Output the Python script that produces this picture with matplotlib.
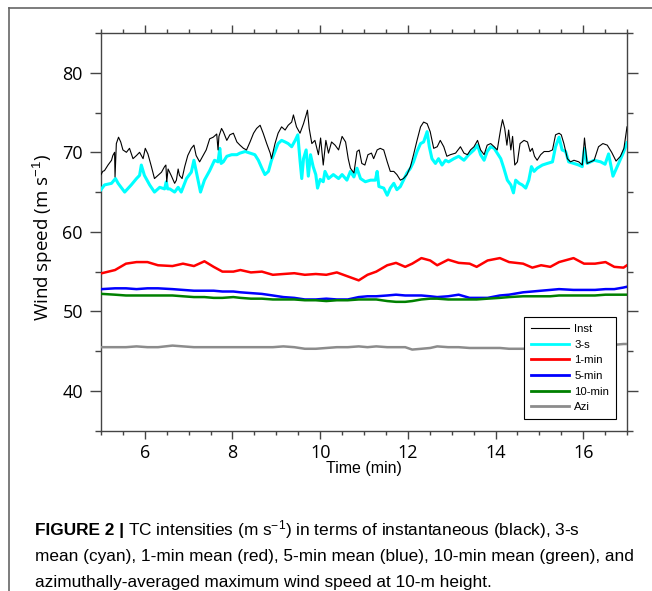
import matplotlib
matplotlib.use('Agg')
import matplotlib.pyplot as plt
from matplotlib.lines import Line2D
from matplotlib.ticker import MultipleLocator

# Мгновенная скорость ветра (Inst)
inst_t = [5.00, 5.04, 5.08, 5.16, 5.24, 5.27, 5.31, 5.32, 5.35, 5.40, 5.45, 5.50, 5.58, 5.65, 5.73, 5.81,
          5.88, 5.96, 6.01, 6.07, 6.15, 6.22, 6.30, 6.38, 6.45, 6.48, 6.50, 6.53, 6.60, 6.68, 6.72, 6.76,
          6.79, 6.85, 6.91, 6.98, 7.06, 7.12, 7.17, 7.25, 7.33, 7.40, 7.48, 7.56, 7.64, 7.67, 7.69, 7.75,
          7.79, 7.87, 7.94, 8.02, 8.10, 8.17, 8.25, 8.32, 8.40, 8.48, 8.55, 8.63, 8.70, 8.78, 8.86, 8.89,
          8.97, 9.04, 9.12, 9.20, 9.27, 9.35, 9.39, 9.46, 9.54, 9.62, 9.68, 9.71, 9.75, 9.81, 9.88, 9.96,
          10.01, 10.07, 10.13, 10.19, 10.26, 10.34, 10.42,
          10.50, 10.58, 10.64, 10.69, 10.77, 10.84, 10.89, 10.95, 11.02, 11.09, 11.17, 11.22, 11.30, 11.37,
          11.45, 11.53, 11.60, 11.68, 11.75, 11.83, 11.90, 11.98, 12.06, 12.13, 12.21, 12.29, 12.36, 12.44,
          12.51, 12.59, 12.67, 12.74, 12.82, 12.89, 12.97, 13.09, 13.20,
          13.28, 13.36, 13.43, 13.51, 13.59, 13.66, 13.74, 13.81, 13.89, 13.97, 14.04, 14.12, 14.16, 14.21,
          14.26, 14.30, 14.35, 14.39, 14.44, 14.50, 14.56, 14.65, 14.73, 14.79, 14.84, 14.89, 14.95, 15.03,
          15.11, 15.22, 15.30, 15.37, 15.45, 15.50, 15.56, 15.64, 15.71, 15.79, 15.90, 15.98, 16.03, 16.09,
          16.17, 16.25, 16.35, 16.45, 16.55, 16.65, 16.75, 16.85, 16.93, 17.00]
inst_v = [67.2, 67.6, 67.7, 68.4, 69.0, 69.6, 70.0, 66.9, 71.1, 71.9, 71.3, 70.3, 70.0, 70.5, 69.2, 69.6,
          70.0, 69.2, 70.5, 69.8, 68.2, 66.7, 67.1, 67.5, 68.2, 68.4, 66.3, 67.9, 67.1, 66.1, 66.5, 67.9,
          67.1, 66.7, 68.2, 69.6, 70.5, 70.9, 69.6, 68.8, 69.6, 70.3, 71.7, 71.9, 72.3, 70.3, 72.0, 73.0,
          72.6, 71.5, 72.2, 72.4, 71.3, 70.9, 70.5, 70.3, 71.3, 72.4, 73.0, 73.4, 72.4, 71.1, 69.9, 69.2,
          71.1, 72.4, 73.2, 72.8, 73.4, 73.8, 74.7, 73.2, 72.4, 73.6, 74.7, 75.3, 73.0, 71.1, 71.5, 69.7,
          71.8, 68.4, 71.5, 69.9, 71.3, 70.9, 70.3,
          72.0, 71.3, 69.2, 68.0, 67.4, 70.1, 70.3, 68.6, 68.4, 69.7, 69.9, 69.2, 70.3, 70.5,
          70.3, 68.8, 67.6, 67.6, 67.2, 66.5, 66.7, 67.2, 68.2, 69.7, 71.5, 73.2, 73.8, 73.6,
          72.6, 70.5, 70.7, 71.5, 70.7, 69.5, 69.7, 69.9, 70.7,
          69.9, 69.7, 70.3, 70.7, 71.5, 70.3, 69.7, 70.9, 71.1, 70.7, 70.3, 73.0, 74.1, 73.0,
          70.9, 72.8, 70.3, 72.0, 68.4, 68.8, 71.1, 71.5, 71.3, 70.1, 70.5, 69.5, 69.0, 69.7,
          70.1, 70.1, 70.3, 72.2, 72.4, 72.2, 71.1, 69.2, 68.8, 69.0, 68.8, 68.4, 71.8, 68.6,
          68.8, 69.0, 70.7, 71.1, 70.9, 70.0, 68.9, 69.5, 70.5, 73.2]

# Среднее за 3 с (3-s)
s3_t = [5.00, 5.08, 5.24, 5.33, 5.39, 5.54, 5.69, 5.81, 5.88, 5.92, 5.99, 6.11, 6.22, 6.34, 6.45, 6.49,
        6.52, 6.57, 6.68, 6.76, 6.83, 6.95, 7.06, 7.12, 7.20, 7.27, 7.36, 7.48, 7.59, 7.67, 7.71, 7.74,
        7.79, 7.87, 7.98, 8.10, 8.17, 8.29, 8.40, 8.51, 8.59, 8.67, 8.74, 8.82, 8.89, 8.97, 9.04, 9.12,
        9.20, 9.27, 9.35, 9.43, 9.49, 9.54, 9.58, 9.62, 9.68, 9.73, 9.78, 9.84, 9.90, 9.94, 10.00, 10.07,
        10.11, 10.19, 10.30, 10.42,
        10.50, 10.61, 10.69, 10.77, 10.84, 10.92, 11.03, 11.15, 11.26, 11.30, 11.34, 11.45, 11.53, 11.60,
        11.68, 11.75, 11.83, 11.90, 11.98, 12.06, 12.13, 12.21, 12.29, 12.36, 12.44, 12.49, 12.55, 12.63,
        12.70, 12.78, 12.86, 12.93, 13.05, 13.16,
        13.28, 13.39, 13.51, 13.59, 13.66, 13.74, 13.81, 13.89, 13.97, 14.04, 14.12, 14.19, 14.27, 14.35,
        14.41, 14.46, 14.54, 14.61, 14.69, 14.76, 14.82, 14.88, 14.95, 15.07, 15.18, 15.30, 15.37, 15.45,
        15.52, 15.60, 15.67, 15.79, 15.90, 15.98, 16.03, 16.09, 16.17, 16.25, 16.40, 16.50, 16.58, 16.68,
        16.80, 16.92, 17.00]
s3_v = [65.3, 65.9, 66.1, 66.7, 66.1, 65.0, 65.9, 66.7, 67.1, 68.4, 67.1, 65.9, 65.0, 65.6, 65.4, 66.3,
        65.4, 65.4, 65.0, 65.6, 65.0, 66.7, 67.5, 69.0, 66.9, 65.0, 66.5, 67.7, 69.0, 68.8, 70.5, 68.6,
        68.8, 69.5, 69.7, 69.7, 69.9, 70.1, 69.9, 69.7, 69.0, 68.0, 67.2, 67.6, 69.0, 70.1, 71.1, 71.5,
        71.3, 71.1, 70.7, 71.5, 72.2, 69.0, 66.7, 69.2, 70.3, 67.0, 69.7, 68.2, 67.2, 65.5, 66.6, 66.3,
        67.6, 66.7, 67.2, 66.7,
        67.2, 66.5, 67.6, 66.9, 68.0, 66.7, 66.3, 66.5, 66.5, 67.6, 65.7, 65.5, 64.6, 65.5,
        66.1, 65.3, 65.7, 66.5, 67.4, 68.0, 68.8, 70.1, 71.1, 71.3, 72.6, 70.7, 69.2, 68.6,
        69.2, 68.4, 69.0, 68.8, 69.2, 69.5,
        69.0, 69.7, 70.3, 70.9, 69.7, 69.0, 70.1, 70.7, 70.5, 69.9, 69.2, 68.0, 66.5, 65.9,
        64.9, 66.5, 66.1, 65.9, 65.5, 66.5, 68.2, 67.6, 68.0, 68.4, 68.6, 68.8, 70.7, 71.9,
        70.3, 70.1, 68.8, 68.6, 68.4, 68.2, 70.5, 68.6, 68.8, 69.0, 68.8, 68.5, 69.8, 67.0,
        68.5, 70.0, 71.2]

# Время для сглаженных рядов (1-min, 5-min, 10-min, Azi)
mean_t = [5.02, 5.32, 5.57, 5.81, 6.06, 6.30, 6.63, 6.87, 7.12, 7.36, 7.57, 7.77, 8.02, 8.18, 8.42,
          8.67, 8.92, 9.16, 9.41, 9.65, 9.90, 10.14, 10.38, 10.63, 10.88, 11.08, 11.28, 11.53, 11.73,
          11.94, 12.10, 12.31, 12.51, 12.67, 12.92, 13.16, 13.41, 13.57, 13.82, 14.10, 14.31, 14.63,
          14.84, 15.04, 15.25, 15.45, 15.78, 16.02, 16.27, 16.51, 16.71, 16.92, 17.00]
min1_v = [54.8, 55.2, 56.0, 56.2, 56.2, 55.8, 55.7, 56.0, 55.7, 56.3, 55.6, 55.0, 55.0, 55.2, 54.9,
          55.0, 54.6, 54.7, 54.8, 54.6, 54.7, 54.6, 54.9, 54.4, 53.9, 54.6, 55.0, 55.8, 56.1,
          55.6, 56.0, 56.7, 56.4, 55.8, 56.5, 56.1, 56.0, 55.6, 56.4, 56.7, 56.2, 56.0,
          55.5, 55.8, 55.6, 56.2, 56.7, 56.0, 56.0, 56.2, 55.6, 55.5, 55.8]
min5_v = [52.8, 52.9, 52.9, 52.8, 52.9, 52.9, 52.8, 52.7, 52.6, 52.6, 52.6, 52.5, 52.5, 52.4, 52.3,
          52.2, 52.0, 51.8, 51.7, 51.5, 51.5, 51.6, 51.5, 51.5, 51.8, 51.9, 51.9, 52.0, 52.1,
          52.0, 52.0, 52.0, 51.9, 51.8, 51.9, 52.1, 51.7, 51.7, 51.7, 52.0, 52.1, 52.4,
          52.5, 52.6, 52.7, 52.8, 52.7, 52.7, 52.7, 52.8, 52.8, 53.0, 53.1]
min10_v = [52.2, 52.1, 52.0, 52.0, 52.0, 52.0, 52.0, 51.9, 51.8, 51.8, 51.7, 51.7, 51.8, 51.7, 51.6,
           51.6, 51.5, 51.5, 51.5, 51.4, 51.4, 51.3, 51.4, 51.4, 51.5, 51.5, 51.5, 51.3, 51.2,
           51.2, 51.3, 51.5, 51.6, 51.6, 51.5, 51.5, 51.5, 51.5, 51.6, 51.7, 51.8, 51.9,
           51.9, 51.9, 51.9, 52.0, 52.0, 52.0, 52.0, 52.1, 52.1, 52.1, 52.1]
azi_v = [45.5, 45.5, 45.5, 45.6, 45.5, 45.5, 45.7, 45.6, 45.5, 45.5, 45.5, 45.5, 45.5, 45.5, 45.5,
         45.5, 45.5, 45.6, 45.5, 45.3, 45.3, 45.4, 45.5, 45.5, 45.6, 45.5, 45.6, 45.5, 45.5,
         45.5, 45.2, 45.3, 45.4, 45.6, 45.5, 45.5, 45.4, 45.4, 45.4, 45.4, 45.3, 45.3,
         45.4, 45.4, 45.5, 45.5, 45.6, 45.6, 45.7, 45.7, 45.8, 45.9, 45.9]

series_labels = ['Inst', '3-s', '1-min', '5-min', '10-min', 'Azi']

DPI = 100
W, H = 652, 591

plt.rcParams['font.family'] = ['Open Sans', 'DejaVu Sans']
plt.rcParams['mathtext.fontset'] = 'custom'
plt.rcParams['mathtext.rm'] = 'Liberation Sans'
plt.rcParams['mathtext.it'] = 'Liberation Sans:italic'

fig = plt.figure(figsize=(W / DPI, H / DPI), dpi=DPI)
ax = fig.add_axes([101 / W, 1 - 430.7 / H, 526 / W, 397.7 / H])

ax.plot(inst_t, inst_v, color='black', lw=0.8, label=series_labels[0], zorder=4)
ax.plot(s3_t, s3_v, color='#00ffff', lw=2.2, label=series_labels[1], zorder=3)
ax.plot(mean_t, min1_v, color='#ff0000', lw=1.8, label=series_labels[2], zorder=3)
ax.plot(mean_t, min5_v, color='#0000ff', lw=1.8, label=series_labels[3], zorder=3)
ax.plot(mean_t, min10_v, color='#008000', lw=1.8, label=series_labels[4], zorder=3)
ax.plot(mean_t, azi_v, color='#8c8c8c', lw=1.8, label=series_labels[5], zorder=3)

ax.set_xlim(5, 17)
ax.set_ylim(35, 85)
ax.xaxis.set_major_locator(MultipleLocator(2))
ax.xaxis.set_minor_locator(MultipleLocator(0.5))
ax.yaxis.set_major_locator(MultipleLocator(10))
ax.yaxis.set_minor_locator(MultipleLocator(5))

for s in ax.spines.values():
    s.set_color('#444444')
    s.set_linewidth(1.0)
ax.tick_params(which='both', direction='out', top=True, right=True, color='#444444', width=1.0)
ax.tick_params(axis='x', which='major', length=6, pad=3.5, labelsize=13)
ax.tick_params(axis='x', which='minor', length=3)
ax.tick_params(axis='y', which='major', length=8, pad=5, labelsize=13)
ax.tick_params(axis='y', which='minor', length=4.3)

fig.text(43 / W, 1 - 238 / H, 'Wind speed (m s$^{-1}$)', rotation=90, ha='center', va='center',
         fontsize=13.5)
fig.text(364 / W, 1 - 469 / H, 'Time (min)', ha='center', va='center', fontsize=11.5,
         family='Liberation Sans')

leg = ax.legend(loc='lower right', bbox_to_anchor=(0.979, 0.029), borderaxespad=0,
                fancybox=False, edgecolor='black', framealpha=1,
                prop={'family': 'Liberation Sans', 'size': 8.2},
                handlelength=3.3, handletextpad=0.5, labelspacing=0.5, borderpad=0.6)
leg.get_frame().set_linewidth(0.8)
for h in leg.get_lines()[1:]:
    h.set_linewidth(2.0)

# Рамка страницы
fig.add_artist(Line2D([9 / W, 1], [1 - 8 / H, 1 - 8 / H], color='#666666', lw=1.2))
fig.add_artist(Line2D([9 / W, 9 / W], [0, 1 - 8 / H], color='#666666', lw=1.2))

# Подпись к рисунку
cap_font = 'Liberation Sans'
cap_size = 12.4
x0 = 35 / W
t1 = fig.text(x0, 1 - 535 / H, 'FIGURE 2 |', fontsize=cap_size, weight='bold', family=cap_font,
              va='baseline')
fig.canvas.draw()
bb = t1.get_window_extent()
fig.text((bb.x1 + 4) / W, 1 - 535 / H,
         'TC intensities (m s$^{-1}$) in terms of instantaneous (black), 3-s',
         fontsize=cap_size, family=cap_font, va='baseline')
fig.text(x0, 1 - 561 / H,
         'mean (cyan), 1-min mean (red), 5-min mean (blue), 10-min mean (green), and',
         fontsize=cap_size, family=cap_font, va='baseline')
fig.text(x0, 1 - 587 / H,
         'azimuthally-averaged maximum wind speed at 10-m height.',
         fontsize=cap_size, family=cap_font, va='baseline')

fig.savefig('out.png', dpi=DPI)
